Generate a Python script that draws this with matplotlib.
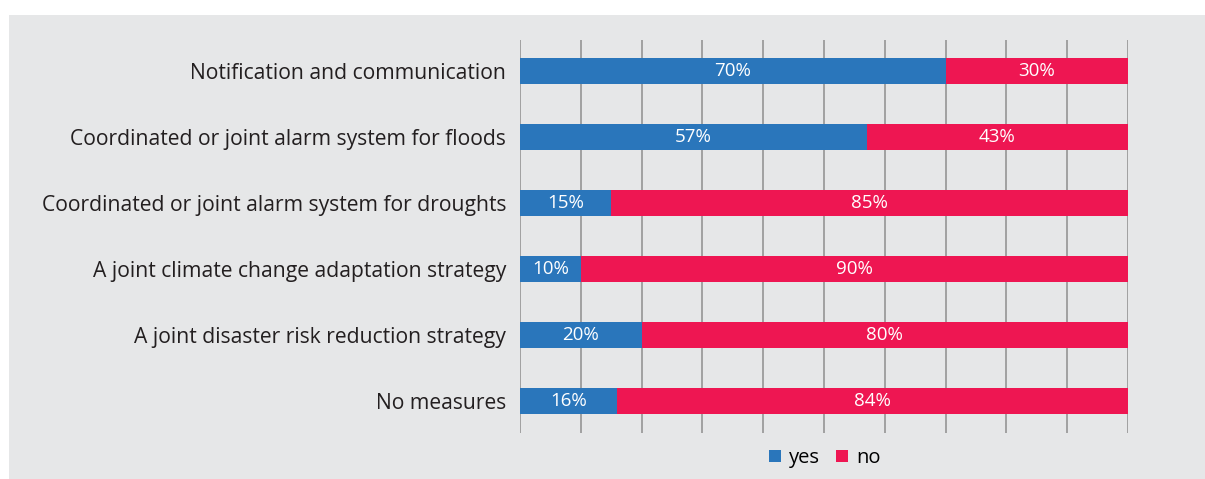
import numpy as np
import matplotlib.pyplot as plt
from matplotlib.patches import Rectangle

# Data
categories = ['Notification and communication',
              'Coordinated or joint alarm system for floods',
              'Coordinated or joint alarm system for droughts',
              'A joint climate change adaptation strategy',
              'A joint disaster risk reduction strategy',
              'No measures']
yes = [70, 57, 15, 10, 20, 16]
no = [30, 43, 85, 90, 80, 84]

blue = '#2a76bb'
red = '#ee1652'
bg = '#e6e7e8'

plt.rcParams['font.family'] = ['Open Sans', 'DejaVu Sans']

W, H = 1205, 479
fig = plt.figure(figsize=(W / 100, H / 100), dpi=100)
fig.patch.set_facecolor('white')
fig.patches.append(Rectangle((9 / W, 0), 1 - 9 / W, 1 - 15 / H,
                             transform=fig.transFigure, facecolor=bg,
                             edgecolor='none', zorder=-10))

ax = fig.add_axes([520 / W, 1 - 433 / H, (1128 - 520) / W, (433 - 40) / H])
ax.set_facecolor('none')

y = np.arange(len(categories))
h = 0.39
ax.barh(y, yes, height=h, color=blue, label='yes', zorder=3)
ax.barh(y, no, left=yes, height=h, color=red, label='no', zorder=3)

for i in range(len(categories)):
    ax.text(yes[i] / 2, y[i], '%d%%' % yes[i], color='white', ha='center',
            va='center', fontsize=13.5, zorder=4)
    ax.text(yes[i] + no[i] / 2, y[i], '%d%%' % no[i], color='white',
            ha='center', va='center', fontsize=13.5, zorder=4)

ax.set_xlim(0, 100)
ax.set_ylim(5.485, -0.47)
ax.set_xticks(np.arange(0, 101, 10))
ax.xaxis.grid(True, color='#9b9b9b', linewidth=1.3, zorder=0)
ax.tick_params(axis='x', length=0, labelbottom=False)
ax.tick_params(axis='y', length=0, pad=10)
ax.set_yticks(y)
ax.set_yticklabels(categories, fontsize=15.2, color='#231f20')
for s in ax.spines.values():
    s.set_visible(False)

fig.legend(loc='center', bbox_to_anchor=(825 / W, 1 - 458 / H), ncol=2,
           frameon=False, fontsize=14.5, handlelength=0.6, handleheight=0.6,
           handletextpad=0.4, columnspacing=0.8)

fig.savefig('out.png', dpi=100)
